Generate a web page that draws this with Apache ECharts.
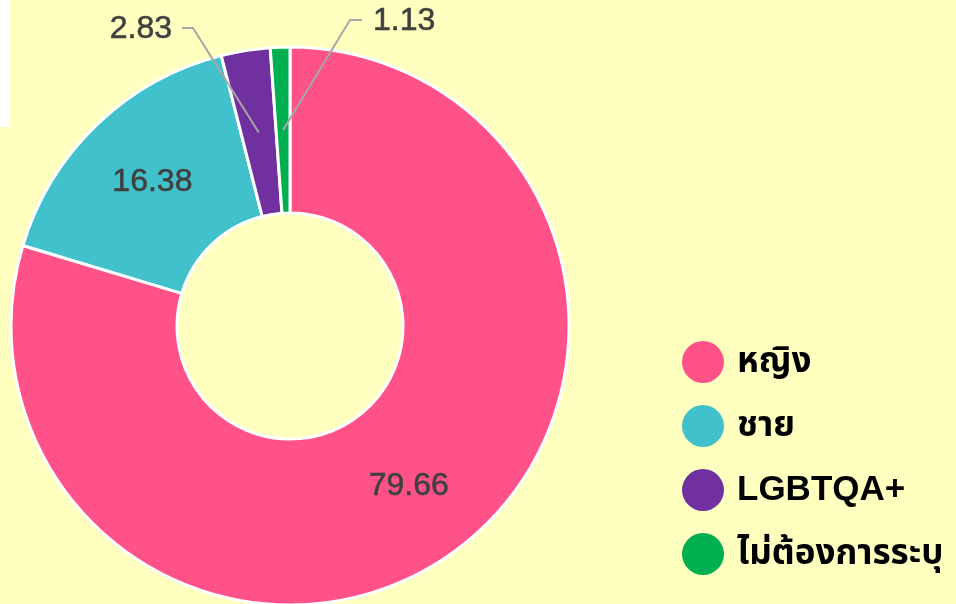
<!DOCTYPE html>
<html>
<head>
<meta charset="utf-8">
<script src="https://cdn.jsdelivr.net/npm/echarts@6/dist/echarts.min.js"></script>
<style>
  html, body { margin: 0; padding: 0; background: #ffffc0; }
  #chart { width: 956px; height: 604px; }
</style>
</head>
<body>
<div id="chart"></div>
<script>
// ข้อมูลเพศ (ร้อยละ)
var categories = ['หญิง', 'ชาย', 'LGBTQA+', 'ไม่ต้องการระบุ'];
var values = [79.66, 16.38, 2.83, 1.13];
var colors = ['#ff5288', '#40c1cb', '#7030a0', '#00b050'];

var cx = 290, cy = 326, rIn = 113, rOut = 279;
var total = values.reduce(function (a, b) { return a + b; }, 0);

// จุดกึ่งกลางของแต่ละชิ้น (ใช้เป็นหัวเส้นโยง)
function midPoint(i) {
  var before = 0;
  for (var k = 0; k < i; k++) before += values[k];
  var a = (before + values[i] / 2) / total * Math.PI * 2;
  var r = (rIn + rOut) / 2;
  return [cx + r * Math.sin(a), cy - r * Math.cos(a)];
}

var labelFont = {
  fontSize: 32,
  color: '#404040',
  textBorderColor: '#404040',
  textBorderWidth: 0.6,
  fontFamily: '"Liberation Sans", Arial, sans-serif'
};

var chart = echarts.init(document.getElementById('chart'));

// ชิ้นหลัก: ป้ายข้างในเฉพาะชิ้นใหญ่
var mainData = categories.map(function (name, i) {
  return {
    name: name, value: values[i],
    itemStyle: { color: colors[i] },
    label: { show: i < 2 }
  };
});

// ชั้นโปร่งใสด้านบน ไว้วางป้ายกับเส้นโยงของชิ้นเล็ก
var overlayData = categories.map(function (name, i) {
  return {
    name: name, value: values[i],
    label: { show: i >= 2 },
    labelLine: { show: i >= 2 }
  };
});

chart.setOption({
  backgroundColor: '#ffffc0',
  animation: false,
  legend: {
    orient: 'vertical',
    left: 682,
    top: 341,
    padding: 0,
    icon: 'circle',
    itemWidth: 42,
    itemHeight: 42,
    itemGap: 22,
    itemStyle: { borderWidth: 0 },
    data: categories,
    textStyle: {
      fontSize: 35,
      lineHeight: 42,
      fontWeight: 'bold',
      color: '#000',
      fontFamily: '"Liberation Sans", "Noto Sans Thai", sans-serif',
      padding: [0, 0, 0, 8]
    }
  },
  graphic: [
    { type: 'rect', left: 0, top: 0, shape: { width: 10, height: 127 }, style: { fill: '#fff' }, z: -1 }
  ],
  series: [
    {
      type: 'pie',
      z: 2,
      center: [cx, cy],
      radius: [rIn, rOut],
      startAngle: 90,
      clockwise: true,
      avoidLabelOverlap: false,
      itemStyle: { borderColor: '#fff', borderWidth: 3 },
      label: Object.assign({
        position: 'inside',
        formatter: function (p) { return p.value.toFixed(2); }
      }, labelFont),
      labelLine: { show: false },
      data: mainData
    },
    {
      type: 'pie',
      z: 5,
      silent: true,
      legendHoverLink: false,
      center: [cx, cy],
      radius: [rIn, rOut],
      startAngle: 90,
      clockwise: true,
      avoidLabelOverlap: false,
      itemStyle: { color: 'rgba(0,0,0,0)', borderWidth: 0 },
      label: Object.assign({
        position: 'outside',
        formatter: function (p) { return p.value.toFixed(2); }
      }, labelFont),
      labelLine: {
        lineStyle: { color: '#a6a6a6', width: 2 }
      },
      labelLayout: function (p) {
        if (p.dataIndex === 2) {
          return {
            x: 172, y: 29, align: 'right', verticalAlign: 'middle',
            labelLinePoints: [midPoint(2), [193, 28], [182, 28]]
          };
        }
        if (p.dataIndex === 3) {
          return {
            x: 373, y: 21, align: 'left', verticalAlign: 'middle',
            labelLinePoints: [midPoint(3), [350, 20], [362, 20]]
          };
        }
        return {};
      },
      data: overlayData
    }
  ]
});
</script>
</body>
</html>
